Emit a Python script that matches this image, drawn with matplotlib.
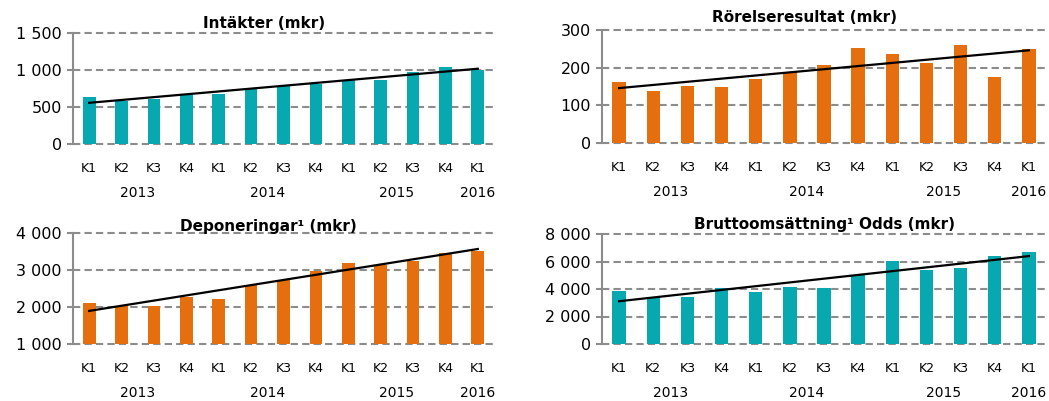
import numpy as np
import matplotlib
matplotlib.use("Agg")
import matplotlib.pyplot as plt

quarters = ["K1", "K2", "K3", "K4", "K1", "K2", "K3", "K4", "K1", "K2", "K3", "K4", "K1"]
years = ["2013", "2014", "2015", "2016"]
year_pos = [1.5, 5.5, 9.5, 12]

intakter = [635, 577, 604, 662, 680, 748, 784, 811, 860, 860, 968, 1036, 1005]
rorelse = [161, 138, 152, 149, 170, 189, 206, 251, 237, 212, 259, 174, 249]
deponering = [2111, 2020, 2025, 2274, 2220, 2608, 2743, 2978, 3177, 3123, 3240, 3466, 3520]
brutto = [3880, 3400, 3400, 4048, 3783, 4120, 4072, 5012, 6048, 5398, 5518, 6386, 6699]

TEAL = "#07a8b0"
ORANGE = "#e56e0e"
GRID = "#8c8c8c"

W, H = 1049, 401
fig = plt.figure(figsize=(W / 100, H / 100), dpi=100)


def fmt(v):
    return "{:,}".format(int(v)).replace(",", " ")


panels = [
    # values, color, ticks, title, axes box (px: left, top, right, bottom), title pos (px)
    (intakter, TEAL, [0, 500, 1000, 1500], "Intäkter (mkr)", (73, 33, 494, 144), (264, 23)),
    (rorelse, ORANGE, [0, 100, 200, 300], "Rörelseresultat (mkr)", (602, 30, 1046, 143), (805, 18)),
    (deponering, ORANGE, [1000, 2000, 3000, 4000], "Deponeringar¹ (mkr)", (73, 233, 494, 344), (268, 226)),
    (brutto, TEAL, [0, 2000, 4000, 6000, 8000], "Bruttoomsättning¹ Odds (mkr)", (602, 234, 1046, 344), (825, 225)),
]

for vals, col, ticks, title, box, tpos in panels:
    l, t, r, b = box
    ax = fig.add_axes([l / W, 1 - b / H, (r - l) / W, (b - t) / H])
    x = np.arange(len(vals))
    ax.bar(x, vals, width=0.39, color=col, zorder=2)
    # linear trend line
    k, m = np.polyfit(x, vals, 1)
    ax.plot([0, 12], [m, m + 12 * k], color="black", lw=1.6, zorder=3)

    ax.set_xlim(-0.5, 12.5)
    ax.set_ylim(ticks[0], ticks[-1])
    ax.set_yticks(ticks)
    ax.set_yticklabels([fmt(v) for v in ticks], fontsize=11.5)
    for v in ticks:
        ax.axhline(v, color=GRID, lw=1.5, ls=(0, (3.5, 2)), zorder=1, clip_on=False)

    ax.set_xticks(x)
    ax.set_xticklabels(quarters, fontsize=9)
    ax.tick_params(axis="x", length=0, pad=13)
    ax.tick_params(axis="y", length=4, width=1.5, color=GRID, pad=4)
    for s in ["top", "right", "bottom"]:
        ax.spines[s].set_visible(False)
    ax.spines["left"].set_color(GRID)
    ax.spines["left"].set_linewidth(1.5)

    for yr, p in zip(years, year_pos):
        ax.annotate(yr, xy=(p, 0), xycoords=("data", "axes fraction"),
                    xytext=(0, -35), textcoords="offset points",
                    ha="center", va="center", fontsize=10, annotation_clip=False)

    fig.text(tpos[0] / W, 1 - tpos[1] / H, title, ha="center", va="center",
             fontsize=11, fontweight="bold")

fig.savefig("out.png", dpi=100)
